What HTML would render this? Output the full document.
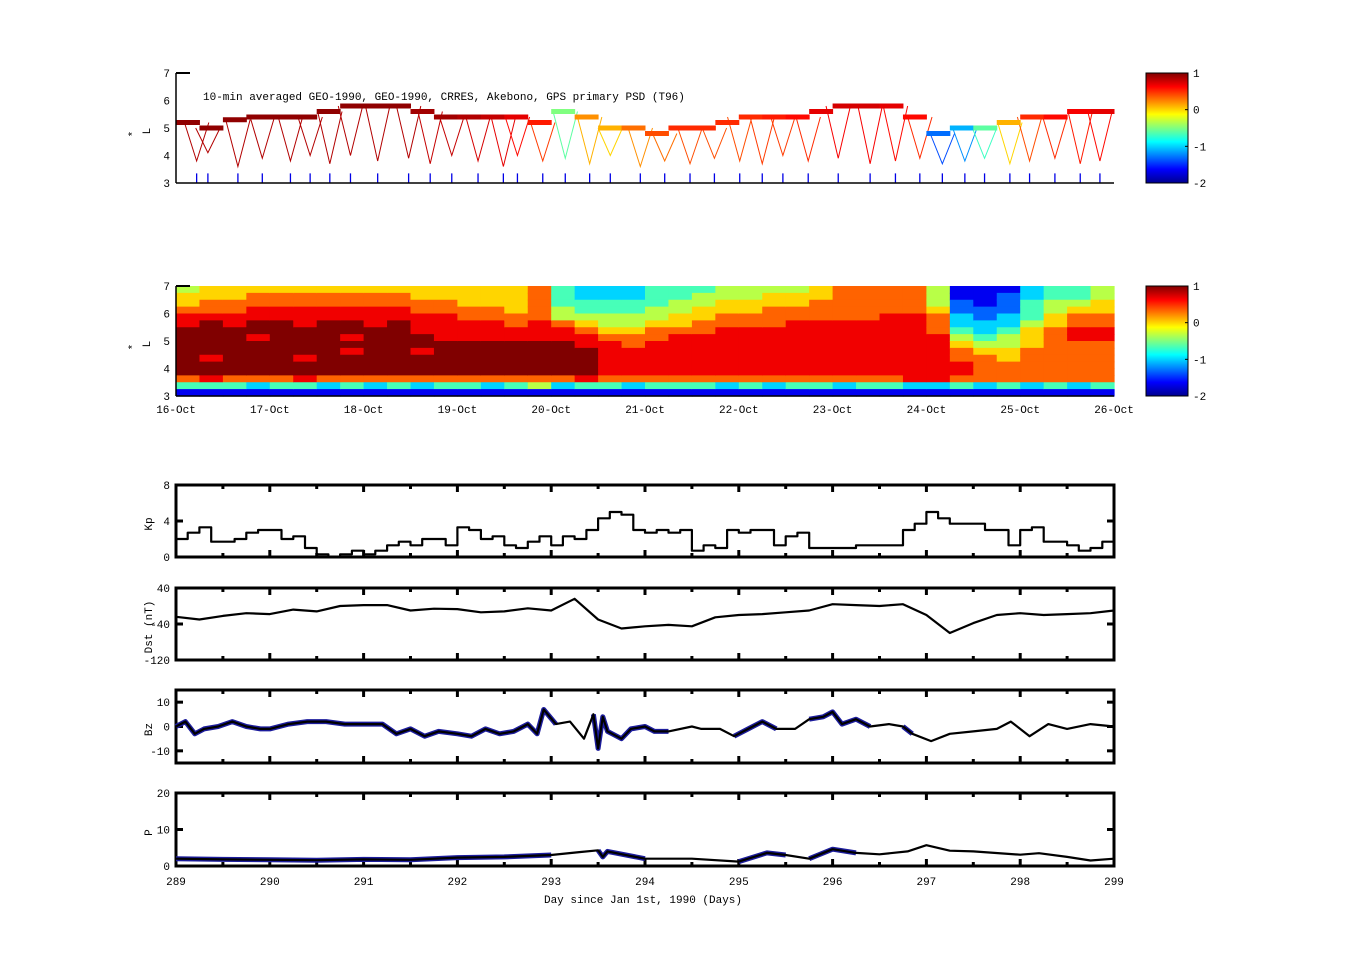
<!DOCTYPE html>
<html><head><meta charset="utf-8"><style>
html,body{margin:0;padding:0;background:#fff;}
svg text{font-family:"Liberation Mono",monospace;font-size:11px;fill:#000;}
</style></head><body>
<svg id="fig" width="1351" height="974" viewBox="0 0 1351 974" xmlns="http://www.w3.org/2000/svg">
<defs>
<linearGradient id="jetg" x1="0" y1="1" x2="0" y2="0">
<stop offset="0" stop-color="#00008f"/><stop offset="0.125" stop-color="#0000ff"/><stop offset="0.375" stop-color="#00ffff"/><stop offset="0.5" stop-color="#80ff80"/><stop offset="0.625" stop-color="#ffff00"/><stop offset="0.875" stop-color="#ff0000"/><stop offset="1" stop-color="#800000"/>
</linearGradient>
</defs>
<g id="p1"></g>
<g id="p2"></g>
<g id="p3"></g>
<g id="p4"></g>
<g id="p5"></g>
<g id="p6"></g>
</svg>
<script>
// ---------- data ----------
const dayStart = 289, dayEnd = 299;
const dateLabels = ["16-Oct","17-Oct","18-Oct","19-Oct","20-Oct","21-Oct","22-Oct","23-Oct","24-Oct","25-Oct","26-Oct"];
const dayLabels = ["289","290","291","292","293","294","295","296","297","298","299"];
const lTicks = [3,4,5,6,7];
const cbTicks = [1,0,-1,-2];
const trackL = [5.2,5.0,5.3,5.4,5.4,5.4,5.6,5.8,5.8,5.8,5.6,5.4,5.4,5.4,5.4,5.2,5.6,5.4,5.0,5.0,4.8,5.0,5.0,5.2,5.4,5.4,5.4,5.6,5.8,5.8,5.8,5.4,4.8,5.0,5.0,5.2,5.4,5.4,5.6,5.6];
const trackV = [0.95,0.95,0.95,0.95,0.95,0.95,0.95,0.95,0.95,0.95,0.9,0.9,0.85,0.8,0.7,0.55,-0.5,0.2,0.1,0.3,0.4,0.5,0.5,0.5,0.5,0.55,0.6,0.7,0.75,0.75,0.7,0.6,-1.3,-1.1,-0.6,0.1,0.5,0.6,0.65,0.7];
const dipDays = [289.22,289.34,289.66,289.92,290.22,290.43,290.64,290.86,291.15,291.48,291.71,291.94,292.22,292.49,292.64,292.91,293.15,293.41,293.63,293.95,294.21,294.48,294.74,295.01,295.25,295.47,295.74,296.06,296.40,296.67,296.93,297.17,297.41,297.62,297.89,298.10,298.37,298.64,298.85];
const dipMinL = [3.8,4.1,3.6,3.9,3.8,4.0,3.7,4.0,3.8,3.9,3.7,4.0,3.8,3.6,4.0,3.8,3.9,3.7,4.0,3.6,3.8,3.7,3.9,3.8,3.7,4.0,3.8,3.9,3.7,3.8,3.9,3.7,3.8,3.9,3.7,3.8,3.9,3.7,3.8];
const heatCols = [
"5667889999999741","6677899999899841","6677889999999741","6778899899999731",
"6778899999999741","6778889999899841","6778899999999731","6778899898999741",
"6778889999999731","6778899999999741","6677888998999731","6677888899999741",
"6667788899999741","6667788899999731","6666778899999741","7777788899999751",
"4445578899999731","3344567889999841","3344556788888741","3344556778888731",
"4445567788888741","4455667888888741","4556677888888741","5566778888888731",
"5566778888888741","5667778888888731","5667788888888741","6677788888888741",
"7777788888888731","7777788888888741","7777888888888741","7777888888888831",
"5556777888888831","1122334567788741","1112233456777731","1222334556677741",
"3344456667777731","4455667777777741","4456778877777731","5566778877777741"];
const kp = [2,2.7,3.3,1.7,1.7,2,2.7,3, 3,2,2.3,1,0.3,0,0.3,0.7, 0.3,0.7,1.3,1.7,1.3,2,2,1.3, 3.3,3,2,2.3,1.3,1,1.7,2.3, 1.3,2.3,2,3,4.3,5,4.7,3, 2.7,3,2.7,3,0.7,1.3,1,3, 2.7,3,3,1.3,2.3,2.7,1,1, 1,1,1.3,1.3,1.3,1.3,3,3.7, 5,4.3,3.7,3.7,3.7,3,3,1.3, 3,3.3,1.7,1.7,1.3,0.7,1,1.7];
const kpTicks = [0,4,8];
const dst = [-24,-30,-22,-16,-18,-8,-12,0,2,2,-10,-6,-7,-14,-12,-5,-10,16,-30,-50,-45,-42,-45,-25,-20,-18,-14,-10,4,2,0,4,-20,-60,-38,-20,-16,-20,-18,-16,-10];
const dstTicks = [40,-40,-120];
const bzDays = [289,289.1,289.2,289.3,289.45,289.6,289.75,289.9,290,290.2,290.4,290.6,290.8,291,291.2,291.35,291.5,291.65,291.8,292,292.15,292.3,292.45,292.6,292.75,292.85,292.92,293.05,293.2,293.35,293.45,293.5,293.55,293.6,293.65,293.75,293.85,294,294.1,294.25,294.5,294.6,294.8,294.95,295.1,295.25,295.4,295.6,295.75,295.9,296,296.1,296.25,296.4,296.6,296.75,296.85,297.05,297.25,297.5,297.75,297.9,298.1,298.3,298.5,298.75,299];
const bzVals = [0,2,-3,-1,0,2,0,-1,-1,1,2,2,1,1,1,-3,-1,-4,-2,-3,-4,-1,-3,-2,1,-3,7,1,2,-5,5,-9,4,-2,-3,-5,-1,0,-2,-2,0,-1,-1,-4,-1,2,-1,-1,3,4,6,1,3,0,1,0,-3,-6,-3,-2,-1,2,-4,1,-1,1,0];
const bzTicks = [10,0,-10];
const bzBlue = [[289,293.05],[293.5,294.3],[294.9,295.4],[295.75,296.4],[296.75,296.85]];
const pDays = [289,289.5,290,290.5,291,291.5,292,292.5,293,293.3,293.5,293.55,293.6,294,294.5,295,295.3,295.5,295.75,296,296.25,296.5,296.8,297,297.25,297.5,298,298.2,298.5,298.75,299];
const pVals = [2,1.8,1.7,1.6,1.8,1.7,2.3,2.5,3,3.8,4.3,2.5,4,2,2,1.2,3.6,3,2,4.6,3.6,3.2,4,5.7,4.2,4,3.1,3.5,2.5,1.5,2];
const pTicks = [0,10,20];
const pBlue = [[289,293],[293.5,294],[294.8,295.5],[295.8,296.4],[296.8,296.9]];

// ---------- helpers ----------
const NS = "http://www.w3.org/2000/svg";
const X0 = 176, X1 = 1114;
function xs(d){ return X0 + (d - dayStart) / (dayEnd - dayStart) * (X1 - X0); }
function mk(tag, attrs, parent){ const e = document.createElementNS(NS, tag); for (const k in attrs) e.setAttribute(k, attrs[k]); parent.appendChild(e); return e; }
function jet(v){
  let t = Math.max(0, Math.min(1, (v + 2) / 3));
  const f = (a) => Math.max(0, Math.min(1, a));
  const r = f(Math.min(4*t - 1.5, -4*t + 4.5));
  const g = f(Math.min(4*t - 0.5, -4*t + 3.5));
  const b = f(Math.min(4*t + 0.5, -4*t + 2.5));
  return `rgb(${Math.round(r*255)},${Math.round(g*255)},${Math.round(b*255)})`;
}
function txt(parent, x, y, s, anchor, name, rot){
  const t = mk("text", {x:x, y:y, "text-anchor":anchor||"middle"}, parent);
  if (rot) t.setAttribute("transform", `rotate(-90 ${x} ${y})`);
  t.textContent = s;
  
  
  return t;
}

function lAxes(g, top, bot){
  const ys = L => bot - (L - 3) / 4 * (bot - top);
  mk("line", {x1:X0, y1:top, x2:X0, y2:bot, stroke:"#000", "stroke-width":1.5}, g);
  mk("line", {x1:X0, y1:bot, x2:X1, y2:bot, stroke:"#000", "stroke-width":1.5}, g);
  mk("line", {x1:X0, y1:top, x2:X0+14, y2:top, stroke:"#000", "stroke-width":2}, g);
  lTicks.forEach(L => { txt(g, 170, ys(L)+4, String(L), "end", "y-tick-label"); });
  txt(g, 150, (top+bot)/2 + 3, "L", "middle", "y-axis-title", true);
  txt(g, 136, (top+bot)/2 + 6, "*", "middle", "y-axis-title-star", true);
  const cb = mk("rect", {x:1146, y:top, width:42, height:bot-top, fill:"url(#jetg)", stroke:"#000", "stroke-width":1}, g);
  
  
  cbTicks.forEach(v => {
    const y = bot - (v + 2) / 3 * (bot - top);
    mk("line", {x1:1185, y1:y, x2:1188, y2:y, stroke:"#000"}, g);
    txt(g, 1193, y+4, String(v), "start", "colorbar-tick-label");
  });
  return ys;
}

(function(){
  const g = document.getElementById("p1");
  const top = 73, bot = 183;
  const ys = L => bot - (L - 3) / 4 * (bot - top);
  dipDays.forEach((d, i) => {
    const k = Math.min(trackL.length-1, Math.floor((d - dayStart) / 0.25));
    const Lt = trackL[k], c = jet(trackV[k] - 0.1);
    const pl = mk("polyline", {points:`${xs(d-0.13)},${ys(Lt)} ${xs(d)},${ys(dipMinL[i])} ${xs(d+0.13)},${ys(Lt)}`, fill:"none", stroke:c, "stroke-width":1}, g);
    
    
    const st = mk("line", {x1:xs(d), y1:ys(3), x2:xs(d), y2:ys(3.35), stroke:jet(-1.7), "stroke-width":1.3}, g);
    
    
  });
  trackL.forEach((L, i) => {
    const x = xs(dayStart + i*0.25), w = xs(dayStart + (i+1)*0.25) - x;
    const r = mk("rect", {x:x, y:ys(L)-2.5, width:w+0.5, height:5, fill:jet(trackV[i])}, g);
    
    
  });
  lAxes(g, top, bot);
  txt(g, 203, 100, "10-min averaged GEO-1990, GEO-1990, CRRES, Akebono, GPS  primary PSD (T96)", "start", "panel-title");
})();

(function(){
  const g = document.getElementById("p2");
  const top = 286, bot = 396;
  const nC = heatCols.length, nR = 16;
  const rowH = (bot - top) / nR;
  heatCols.forEach((col, ci) => {
    const x = xs(dayStart + ci*(dayEnd-dayStart)/nC), w = xs(dayStart + (ci+1)*(dayEnd-dayStart)/nC) - x;
    for (let r = 0; r < nR; r++){
      const v = -2 + parseInt(col[r]) / 3;
      const c = mk("rect", {x:x, y:top + r*rowH, width:w+0.6, height:rowH+0.6, fill:jet(v)}, g);
      
      
    }
  });
  lAxes(g, top, bot);
  dateLabels.forEach((s, i) => { txt(g, xs(dayStart+i), 413, s, "middle", "x-tick-label"); });
})();

function linePanel(id, top, bot, ymin, ymax, ticks, title, seriesPts, blueRanges){
  const g = document.getElementById(id);
  const ys = v => bot - (v - ymin) / (ymax - ymin) * (bot - top);
  const box = mk("rect", {x:X0, y:top, width:X1-X0, height:bot-top, fill:"none", stroke:"#000", "stroke-width":3}, g);
  
  
  for (let d = dayStart; d <= dayEnd; d++){
    const x = xs(d);
    mk("line", {x1:x, y1:top, x2:x, y2:top+7, stroke:"#000", "stroke-width":3}, g);
    mk("line", {x1:x, y1:bot, x2:x, y2:bot-7, stroke:"#000", "stroke-width":3}, g);
    if (d < dayEnd){
      mk("line", {x1:xs(d+0.5), y1:top, x2:xs(d+0.5), y2:top+4, stroke:"#000", "stroke-width":3}, g);
      mk("line", {x1:xs(d+0.5), y1:bot, x2:xs(d+0.5), y2:bot-4, stroke:"#000", "stroke-width":3}, g);
    }
  }
  ticks.forEach(v => {
    const y = ys(v);
    txt(g, 170, y+4, String(v), "end", "y-tick-label");
    if (v !== ymin && v !== ymax){
      mk("line", {x1:X0, y1:y, x2:X0+7, y2:y, stroke:"#000", "stroke-width":3}, g);
      mk("line", {x1:X1, y1:y, x2:X1-7, y2:y, stroke:"#000", "stroke-width":3}, g);
    }
  });
  txt(g, 152, (top+bot)/2 + 3, title, "middle", "y-axis-title", true);
  const pts = seriesPts.map(p => `${xs(p[0]).toFixed(1)},${ys(p[1]).toFixed(1)}`).join(" ");
  if (blueRanges){
    blueRanges.forEach(r => {
      const sub = seriesPts.filter(p => p[0] >= r[0]-0.06 && p[0] <= r[1]+0.06).map(p => `${xs(p[0]).toFixed(1)},${ys(p[1]).toFixed(1)}`).join(" ");
      const b = mk("polyline", {points:sub, fill:"none", stroke:"#1c1c9c", "stroke-width":5, "stroke-linejoin":"round"}, g);
      
      
    });
  }
  const l = mk("polyline", {points:pts, fill:"none", stroke:"#000", "stroke-width":2.2, "stroke-linejoin":"round"}, g);
  
  
  return g;
}
const kpPts = [];
kp.forEach((v, i) => { kpPts.push([dayStart + i*0.125, v]); kpPts.push([dayStart + (i+1)*0.125, v]); });
linePanel("p3", 485, 557, 0, 8, kpTicks, "Kp", kpPts);
linePanel("p4", 588, 660, -120, 40, dstTicks, "Dst (nT)", dst.map((v,i) => [dayStart + i*0.25, v]));
linePanel("p5", 690, 763, -15, 15, bzTicks, "Bz", bzDays.map((d,i) => [d, bzVals[i]]), bzBlue);
const g6 = linePanel("p6", 793, 866, 0, 20, pTicks, "P", pDays.map((d,i) => [d, pVals[i]]), pBlue);
dayLabels.forEach((s, i) => { txt(g6, xs(dayStart+i), 885, s, "middle", "x-tick-label"); });
txt(g6, 643, 903, "Day since Jan 1st, 1990 (Days)", "middle", "x-axis-title");
</script>
</body></html>
